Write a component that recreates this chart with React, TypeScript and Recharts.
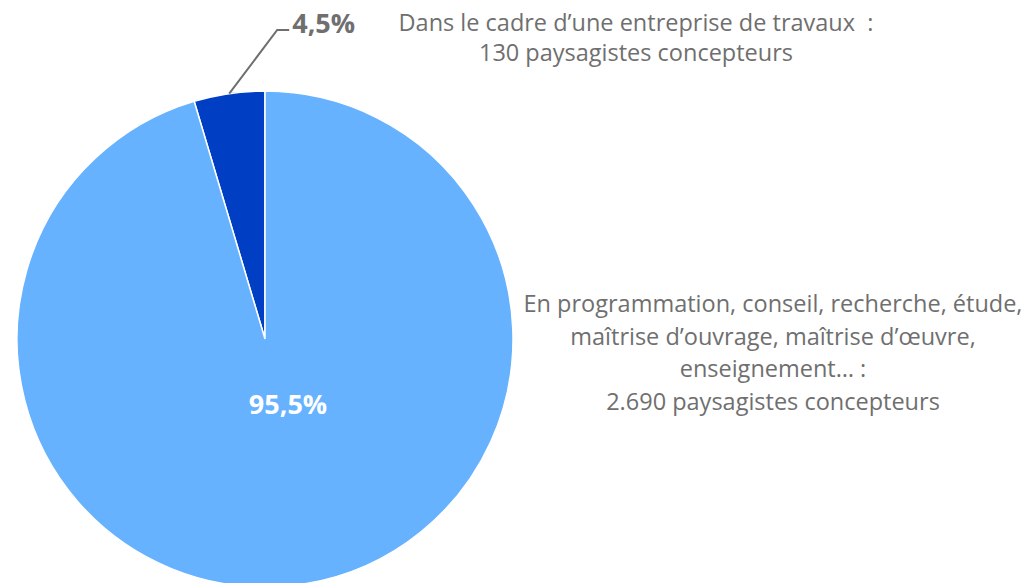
import React from 'react';
import { PieChart, Pie, Cell } from 'recharts';

const categories = ['Entreprise de travaux', 'Programmation, conseil, recherche…'];
const values = [130, 2690];
const percentLabels = ['4,5%', '95,5%'];
const descriptions = [
  ['Dans le cadre d’une entreprise de travaux  :', '130 paysagistes concepteurs'],
  ['En programmation, conseil, recherche, étude,', 'maîtrise d’ouvrage, maîtrise d’œuvre,', 'enseignement… :', '2.690 paysagistes concepteurs'],
];
const colors = ['#003FC4', '#66B2FF'];

const data = categories.map((c, i) => ({ name: c, value: values[i] }));

const FONT = '"Open Sans", Lato, sans-serif';
const GRAY = '#6F6F6F';
const RAD = Math.PI / 180;

const renderLabel = (props: any) => {
  const { cx, cy, midAngle, outerRadius, index } = props;
  if (index === 0) {
    const px = cx + outerRadius * Math.cos(-midAngle * RAD);
    const py = cy + outerRadius * Math.sin(-midAngle * RAD);
    const ex = px + 48;
    const ey = cy - 309;
    return (
      <g>
        <polyline points={`${px},${py} ${ex},${ey} ${ex + 12},${ey}`} fill="none" stroke="#6F6F6F" strokeWidth={2} />
        <text x={ex + 15} y={ey - 8} dominantBaseline="central" fill={GRAY} fontFamily={FONT} fontWeight={700} fontSize={27}>
          {percentLabels[0]}
        </text>
        {descriptions[0].map((line, k) => (
          <text key={k} x={cx + 371} y={cy - 317 + k * 30} textAnchor="middle" dominantBaseline="central" fill={GRAY} fontFamily={FONT} fontSize={23.5} style={{ whiteSpace: 'pre' }}>
            {line}
          </text>
        ))}
      </g>
    );
  }
  return (
    <g>
      <text x={cx + 23} y={cy + 64} textAnchor="middle" dominantBaseline="central" fill="#FFFFFF" fontFamily={FONT} fontWeight={700} fontSize={27}>
        {percentLabels[1]}
      </text>
      {descriptions[1].map((line, k) => (
        <text key={k} x={cx + 508} y={cy - 36 + k * 32.7} textAnchor="middle" dominantBaseline="central" fill={GRAY} fontFamily={FONT} fontSize={23.5}>
          {line}
        </text>
      ))}
    </g>
  );
};

export default function App() {
  return (
    <div style={{ position: 'absolute', left: 0, top: 0, width: 1026, height: 583, background: '#fff' }}>
      <PieChart width={1026} height={583} margin={{ top: 0, right: 0, bottom: 0, left: 0 }}>
        <Pie
          data={data}
          dataKey="value"
          nameKey="name"
          cx={265}
          cy={339}
          outerRadius={248}
          startAngle={90}
          endAngle={450}
          stroke="#FFFFFF"
          strokeWidth={1.5}
          label={renderLabel}
          labelLine={false}
          isAnimationActive={false}
        >
          {data.map((d, i) => (
            <Cell key={d.name} fill={colors[i]} />
          ))}
        </Pie>
      </PieChart>
    </div>
  );
}
